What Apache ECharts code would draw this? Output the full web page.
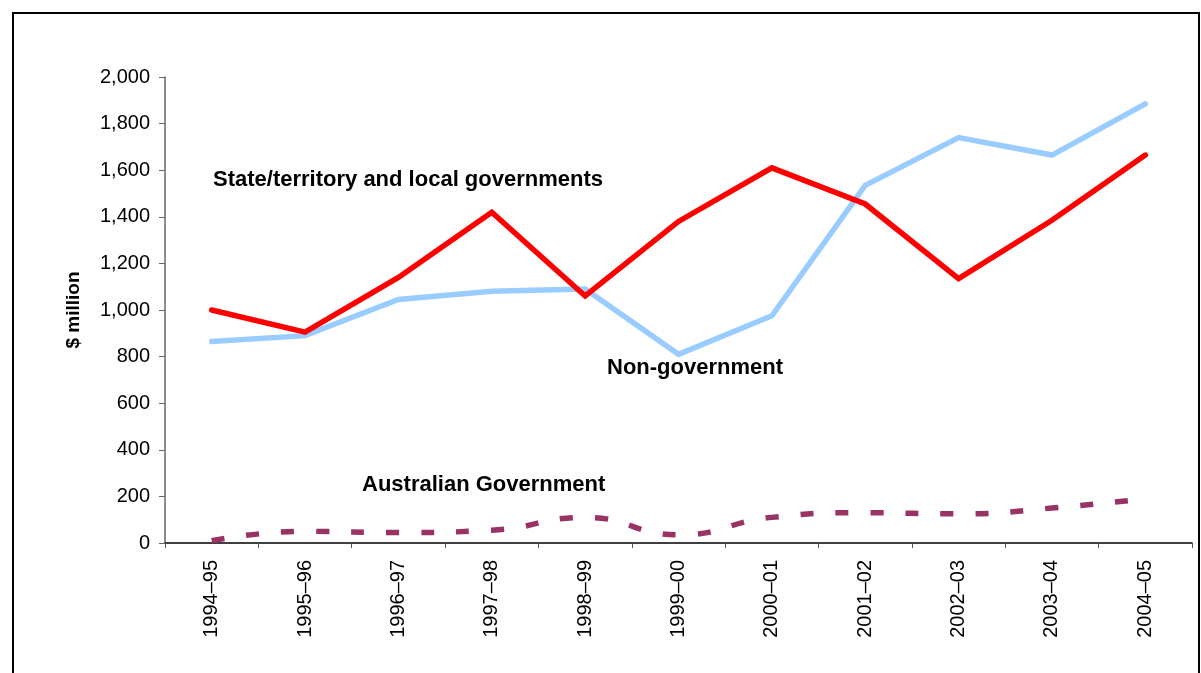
<!DOCTYPE html>
<html>
<head>
<meta charset="utf-8">
<title>Expenditure by funding source</title>
<script src="https://cdn.jsdelivr.net/npm/echarts@6/dist/echarts.min.js"></script>
<style>
  html, body { margin: 0; padding: 0; background: #ffffff; }
  #chart { width: 1201px; height: 673px; }
</style>
</head>
<body>
<div id="chart"></div>
<script>
// Financial years (x axis categories)
const years = ['1994–95', '1995–96', '1996–97', '1997–98', '1998–99', '1999–00',
               '2000–01', '2001–02', '2002–03', '2003–04', '2004–05'];

// Expenditure by source of funds, $ million
const stateLocal = [1000, 905, 1140, 1420, 1060, 1380, 1610, 1455, 1135, 1385, 1665];
const nonGovernment = [865, 890, 1045, 1080, 1090, 810, 975, 1535, 1740, 1665, 1885];
const australianGovernment = [10, 50, 45, 55, 110, 35, 110, 130, 125, 150, 190];

// Value axis range and step
const yMin = 0;
const yMax = 2000;
const yStep = 200;

// Series names, also used as in-plot labels
const seriesNames = ['State/territory and local governments', 'Non-government', 'Australian Government'];

const FONT = 'Arial, "Liberation Sans", sans-serif';

const chart = echarts.init(document.getElementById('chart'), null, { renderer: 'canvas' });

chart.setOption({
  backgroundColor: '#ffffff',
  animation: false,
  grid: { left: 165, right: 9, top: 77, bottom: 130, containLabel: false },
  xAxis: {
    type: 'category',
    data: years,
    boundaryGap: true,
    axisLine: { show: true, lineStyle: { color: '#000000', width: 1.5 } },
    axisTick: { show: true, alignWithLabel: false, length: 5, lineStyle: { color: '#555555' } },
    axisLabel: {
      interval: 0, rotate: 90, margin: 17,
      color: '#000000', fontSize: 20, fontFamily: FONT
    },
    splitLine: { show: false }
  },
  yAxis: {
    type: 'value',
    min: yMin, max: yMax, interval: yStep,
    name: '$ million',
    nameLocation: 'middle',
    nameRotate: 90,
    nameGap: 82,
    nameTextStyle: { color: '#000000', fontSize: 19, fontWeight: 'bold', fontFamily: FONT },
    axisLine: { show: true, lineStyle: { color: '#666666', width: 1.5 } },
    axisTick: { show: true, inside: false, length: 6, lineStyle: { color: '#666666' } },
    axisLabel: {
      margin: 15, color: '#000000', fontSize: 20, fontFamily: FONT,
      formatter: v => v.toLocaleString('en-US')
    },
    splitLine: { show: false }
  },
  series: [
    {
      name: seriesNames[2],
      type: 'line',
      data: australianGovernment,
      smooth: true,
      symbol: 'none',
      lineStyle: { color: '#993366', width: 5.5, type: [13, 22], cap: 'butt' },
      z: 2
    },
    {
      name: seriesNames[1],
      type: 'line',
      data: nonGovernment,
      symbol: 'none',
      lineStyle: { color: '#99CCFF', width: 5.5, cap: 'round', join: 'miter' },
      z: 3
    },
    {
      name: seriesNames[0],
      type: 'line',
      data: stateLocal,
      symbol: 'none',
      lineStyle: { color: '#FF0000', width: 5.5, cap: 'round', join: 'miter' },
      z: 4
    }
  ],
  graphic: [
    {
      type: 'rect',
      shape: { x: 13, y: 13, width: 1186, height: 700 },
      style: { fill: 'none', stroke: '#000000', lineWidth: 2 },
      silent: true
    },
    {
      type: 'text', left: 213, top: 169,
      style: { text: seriesNames[0], fill: '#000000', font: 'bold 22px ' + FONT }
    },
    {
      type: 'text', left: 607, top: 357,
      style: { text: seriesNames[1], fill: '#000000', font: 'bold 22px ' + FONT }
    },
    {
      type: 'text', left: 362, top: 474,
      style: { text: seriesNames[2], fill: '#000000', font: 'bold 22px ' + FONT }
    }
  ]
});
</script>
</body>
</html>
